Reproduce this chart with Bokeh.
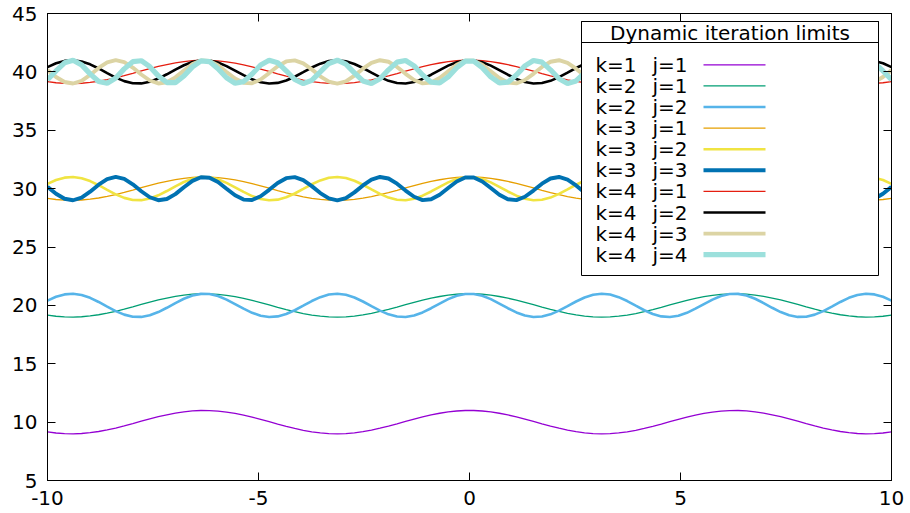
import numpy as np
from bokeh.plotting import figure
from bokeh.models import LinearAxis, BoxAnnotation, Label, Range1d, FixedTicker
from bokeh.embed import file_html
from bokeh.resources import INLINE

# ---- data ----
x_limits = [-10, 10]
y_limits = [5, 45]
x_ticks = [-10, -5, 0, 5, 10]
x_tick_labels = ["-10", "-5", "0", "5", "10"]
y_ticks = [5, 10, 15, 20, 25, 30, 35, 40, 45]
y_tick_labels = ["5", "10", "15", "20", "25", "30", "35", "40", "45"]
n_samples = 100  # gnuplot default sampling

k_values = [1, 2, 2, 3, 3, 3, 4, 4, 4, 4]
j_values = [1, 1, 2, 1, 2, 3, 1, 2, 3, 4]
legend_title = "Dynamic iteration limits"

# ---- styles ----
colors = ["#9400d3", "#009e73", "#56b4e9", "#e69f00", "#f0e442",
          "#0072b2", "#e51e10", "#000000", "#dcd4a4", "#9ce0dc"]
width_by_j = {1: 1.3, 2: 2.6, 3: 3.9, 4: 5.2}
FONT = "DejaVu Sans"
FS = "20px"

p = figure(width=908, height=513,
           x_range=Range1d(*x_limits), y_range=Range1d(*y_limits),
           output_backend="svg", toolbar_location=None,
           min_border_left=47, min_border_right=17,
           min_border_top=13, min_border_bottom=33)
p.xgrid.visible = False
p.ygrid.visible = False
p.outline_line_color = "black"
p.outline_line_alpha = 1.0
p.outline_line_width = 1
p.background_fill_color = "white"
p.border_fill_color = "white"

xs = np.linspace(x_limits[0], x_limits[1], n_samples)
for k, j, c in zip(k_values, j_values, colors):
    ys = 10 * k + np.cos(j * xs)
    p.line(xs, ys, line_color=c, line_width=width_by_j[j])


def style_axis(ax, ticks, labels, show_labels):
    ax.ticker = FixedTicker(ticks=ticks)
    ax.major_tick_in = 8
    ax.major_tick_out = 0
    ax.minor_tick_in = 0
    ax.minor_tick_out = 0
    ax.axis_line_color = "black"
    ax.major_tick_line_color = "black"
    ax.major_tick_line_width = 1
    ax.major_label_text_font = FONT
    ax.major_label_text_color = "black"
    if show_labels:
        ax.major_label_text_font_size = FS
        ax.major_label_overrides = {t: s for t, s in zip(ticks, labels)}
    else:
        ax.major_label_text_font_size = "1px"
        ax.major_label_standoff = 0
        ax.major_label_overrides = {t: "" for t in ticks}


style_axis(p.xaxis[0], x_ticks, x_tick_labels, True)
p.xaxis[0].major_label_standoff = 10
style_axis(p.yaxis[0], y_ticks, y_tick_labels, True)
p.yaxis[0].major_label_standoff = 10

top_axis = LinearAxis()
style_axis(top_axis, x_ticks, x_tick_labels, False)
p.add_layout(top_axis, "above")
right_axis = LinearAxis()
style_axis(right_axis, y_ticks, y_tick_labels, False)
p.add_layout(right_axis, "right")

# ---- legend (gnuplot style: text left, sample right) in screen units ----
box_l, box_r, box_b, box_t = 534, 831, 205, 459
title_sep = 438
p.add_layout(BoxAnnotation(left=box_l, right=box_r, bottom=box_b, top=box_t,
                           left_units="screen", right_units="screen",
                           bottom_units="screen", top_units="screen",
                           fill_color="white", fill_alpha=1.0,
                           line_color="black", line_width=1, line_alpha=1.0))
p.add_layout(BoxAnnotation(left=box_l, right=box_r, bottom=title_sep, top=box_t,
                           left_units="screen", right_units="screen",
                           bottom_units="screen", top_units="screen",
                           fill_alpha=0.0,
                           line_color="black", line_width=1, line_alpha=1.0))
p.add_layout(Label(x=(box_l + box_r) / 2, y=448, x_units="screen", y_units="screen",
                   text=legend_title, text_align="center", text_baseline="alphabetic",
                   text_font=FONT, text_font_size=FS, text_color="black"))

row0, row_step = 415.7, 21.1
for i, (k, j, c) in enumerate(zip(k_values, j_values, colors)):
    yc = row0 - i * row_step
    p.add_layout(Label(x=548, y=yc, x_units="screen", y_units="screen",
                       text=f"k={k}", text_baseline="alphabetic",
                       text_font=FONT, text_font_size=FS, text_color="black"))
    p.add_layout(Label(x=605, y=yc, x_units="screen", y_units="screen",
                       text=f"j={j}", text_baseline="alphabetic",
                       text_font=FONT, text_font_size=FS, text_color="black"))
    w = width_by_j[j]
    p.add_layout(BoxAnnotation(left=656, right=718, bottom=yc - w / 2, top=yc + w / 2,
                               left_units="screen", right_units="screen",
                               bottom_units="screen", top_units="screen",
                               fill_color=c, fill_alpha=1.0, line_alpha=0.0))

open("out.html", "w").write(file_html(p, INLINE))
